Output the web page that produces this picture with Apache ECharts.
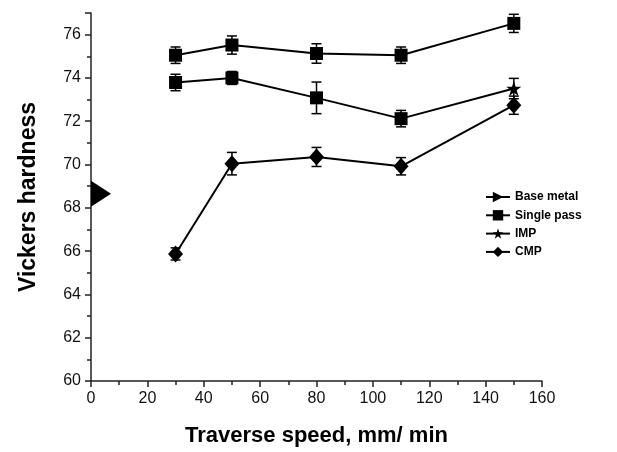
<!DOCTYPE html>
<html>
<head>
<meta charset="utf-8">
<script src="https://cdn.jsdelivr.net/npm/echarts@6/dist/echarts.min.js"></script>
<style>
  html, body { margin: 0; padding: 0; background: #fff; }
  #chart { width: 617px; height: 452px; }
</style>
</head>
<body>
<div id="chart"></div>
<script>
// Traverse speeds (mm/min) at which hardness was measured
const speeds = [30, 50, 80, 110, 150];

// Mean Vickers hardness and error (±) per process
const singlePass = [75.05, 75.52, 75.13, 75.05, 76.52];
const singlePassErr = [0.38, 0.42, 0.45, 0.38, 0.42];

const imp = [73.79, 74.0, 73.08, 72.12, 73.51];
const impErr = [0.38, 0.3, 0.73, 0.38, 0.47];

const cmp = [65.87, 70.04, 70.35, 69.92, 72.74];
const cmpErr = [0.28, 0.52, 0.44, 0.4, 0.42];

// Base metal reference hardness (shown at zero speed)
const baseMetalSpeed = [0];
const baseMetal = [68.65];

const seriesNames = ['Base metal', 'Single pass', 'IMP', 'CMP'];
const xTicks = [0, 20, 40, 60, 80, 100, 120, 140, 160];
const yTicks = [60, 62, 64, 66, 68, 70, 72, 74, 76];

const FONT = 'Arial, "Liberation Sans", sans-serif';
const STAR = 'path://M50,0 L61.8,35.1 L98.9,35.1 L68.9,57 L80.3,92.1 L50,70.4 L19.7,92.1 L31.1,57 L1.1,35.1 L38.2,35.1 Z';
const TRI_RIGHT = 'path://M0,0 L100,50 L0,100 Z';

const pairs = (xs, ys) => xs.map((x, i) => [x, ys[i]]);
const errTriples = (xs, ys, es) => xs.map((x, i) => [x, ys[i], es[i]]);

function errorBarSeries(data) {
  return {
    type: 'custom',
    silent: true,
    z: 1,
    data: data,
    renderItem: function (params, api) {
      const x = api.value(0), y = api.value(1), e = api.value(2);
      const top = api.coord([x, y + e]);
      const bot = api.coord([x, y - e]);
      const w = 5;
      const style = { stroke: '#000', lineWidth: 1.5 };
      return {
        type: 'group',
        children: [
          { type: 'line', shape: { x1: top[0], y1: top[1], x2: bot[0], y2: bot[1] }, style },
          { type: 'line', shape: { x1: top[0] - w, y1: top[1], x2: top[0] + w, y2: top[1] }, style },
          { type: 'line', shape: { x1: bot[0] - w, y1: bot[1], x2: bot[0] + w, y2: bot[1] }, style }
        ]
      };
    }
  };
}

// IMP points use squares except the last, which uses the star
const impData = pairs(speeds, imp).map((p, i, arr) =>
  i < arr.length - 1 ? { value: p, symbol: 'rect', symbolSize: 13 } : { value: p });

const lineStyle = { color: '#000', width: 2 };
const axisColor = '#222';

const chart = echarts.init(document.getElementById('chart'));
chart.setOption({
  animation: false,
  backgroundColor: '#fff',
  textStyle: { fontFamily: FONT },
  grid: { left: 91, top: 13, right: 75, bottom: 70 },
  legend: {
    orient: 'vertical',
    left: 480,
    top: 186,
    itemWidth: 24,
    itemHeight: 13,
    itemGap: 6.3,
    data: seriesNames,
    textStyle: { fontFamily: FONT, fontWeight: 'bold', fontSize: 12, color: '#000' }
  },
  xAxis: {
    type: 'value',
    min: 0,
    max: 160,
    interval: 20,
    name: 'Traverse speed, mm/ min',
    nameLocation: 'middle',
    nameGap: 44,
    nameTextStyle: { fontFamily: FONT, fontWeight: 'bold', fontSize: 22, color: '#000' },
    axisLine: { show: true, lineStyle: { color: axisColor, width: 1.5 } },
    axisTick: { show: true, length: 6, lineStyle: { color: axisColor, width: 1.5 } },
    minorTick: { show: true, splitNumber: 2, length: 4, lineStyle: { color: axisColor, width: 1.5 } },
    axisLabel: {
      margin: 10, fontSize: 16, color: '#111', fontFamily: FONT,
      formatter: v => xTicks.includes(v) ? String(v) : ''
    },
    splitLine: { show: false }
  },
  yAxis: {
    type: 'value',
    min: 60,
    max: 77,
    interval: 2,
    name: 'Vickers hardness',
    nameLocation: 'middle',
    nameGap: 51,
    nameTextStyle: { fontFamily: FONT, fontWeight: 'bold', fontSize: 23, color: '#000' },
    axisLine: { show: true, lineStyle: { color: axisColor, width: 1.5 } },
    axisTick: { show: true, length: 6, lineStyle: { color: axisColor, width: 1.5 } },
    minorTick: { show: true, splitNumber: 2, length: 4, lineStyle: { color: axisColor, width: 1.5 } },
    axisLabel: {
      margin: 10, fontSize: 16, color: '#111', fontFamily: FONT,
      formatter: v => yTicks.includes(v) ? String(v) : ''
    },
    splitLine: { show: false }
  },
  series: [
    {
      name: 'Base metal',
      type: 'line',
      data: pairs(baseMetalSpeed, baseMetal),
      symbol: TRI_RIGHT,
      symbolSize: [20, 26],
      symbolOffset: [10, 0],
      clip: false,
      z: 3,
      itemStyle: { color: '#000' },
      lineStyle: lineStyle
    },
    {
      name: 'Single pass',
      type: 'line',
      data: pairs(speeds, singlePass),
      symbol: 'rect',
      symbolSize: 13,
      z: 3,
      itemStyle: { color: '#000' },
      lineStyle: lineStyle
    },
    {
      name: 'IMP',
      type: 'line',
      data: impData,
      symbol: STAR,
      symbolSize: 15,
      z: 3,
      itemStyle: { color: '#000' },
      lineStyle: lineStyle
    },
    {
      name: 'CMP',
      type: 'line',
      data: pairs(speeds, cmp),
      symbol: 'diamond',
      symbolSize: [15, 17],
      z: 3,
      itemStyle: { color: '#000' },
      lineStyle: lineStyle
    },
    errorBarSeries(errTriples(speeds, singlePass, singlePassErr)),
    errorBarSeries(errTriples(speeds, imp, impErr)),
    errorBarSeries(errTriples(speeds, cmp, cmpErr))
  ]
});
</script>
</body>
</html>
